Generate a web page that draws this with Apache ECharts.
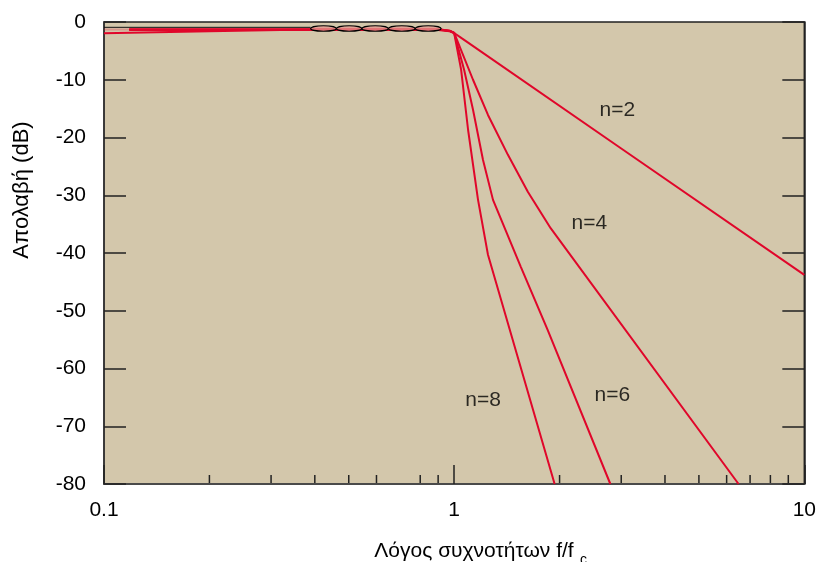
<!DOCTYPE html>
<html>
<head>
<meta charset="utf-8">
<script src="https://cdn.jsdelivr.net/npm/echarts@6/dist/echarts.min.js"></script>
<style>
  html, body { margin: 0; padding: 0; background: #ffffff; }
  #chart { width: 819px; height: 562px; }
</style>
</head>
<body>
<div id="chart"></div>
<script>
// Gain (dB) against frequency ratio f/fc for each filter order
const respN2 = [[0.1, -1.95], [0.2, -1.6], [0.35, -1.35], [0.9, -1.25], [0.97, -1.5], [1, -1.9],
  [1.05, -2.8], [3, -21.9], [10, -43.8]];
const respN4 = [[0.118, -1.25], [0.9, -1.25], [0.97, -1.5], [1, -1.9], [1.132, -10.0], [1.249, -16.1],
  [1.424, -23.0], [1.623, -29.4], [1.886, -35.7], [6.49, -80]];
const respN6 = [[0.118, -1.4], [0.9, -1.4], [0.97, -1.6], [1, -1.9], [1.068, -8.3], [1.132, -15.2],
  [1.209, -23.9], [1.291, -30.8], [1.55, -42.4], [1.849, -53.3], [2.793, -80]];
const respN8 = [[0.118, -1.3], [0.9, -1.3], [0.97, -1.55], [1, -1.9], [1.047, -8.3], [1.096, -18.7],
  [1.17, -30.8], [1.249, -40.3], [1.936, -80]];
const leadIn = [[0.1, -1.3], [0.118, -1.3]];

// Pass-band ripple cells: boundaries in f/fc, top and bottom in dB
const rippleEdges = [0.389, 0.461, 0.545, 0.649, 0.774, 0.918];
const rippleTop = -0.65;
const rippleBottom = -1.6;
const rippleRef = [[0.1, -0.92], [0.389, -0.92]];

// Curve labels
const labelText = ['n=2', 'n=4', 'n=6', 'n=8'];
const labelF = [2.924, 2.434, 2.83, 1.209];
const labelDb = [-15.2, -34.8, -64.6, -65.5];

// Axes
const xMin = 0.1, xMax = 10;
const yMin = -80, yMax = 0, yStep = 10;
const xMinorTicks = [0.2, 0.3, 0.4, 0.5, 0.6, 0.8, 0.9, 2, 3, 4, 5, 6, 7, 8, 9];

const RED = '#e0062a';
const FONT = '"Liberation Sans", Arial, sans-serif';
const INK = '#000000';

const rippleCells = [];
for (let i = 0; i < rippleEdges.length - 1; i++) rippleCells.push([rippleEdges[i], rippleEdges[i + 1]]);

const chart = echarts.init(document.getElementById('chart'), null, { renderer: 'canvas' });

function curve(data, z) {
  return {
    type: 'line', data: data, symbol: 'none', smooth: false, z: z,
    lineStyle: { color: RED, width: 2 }, animation: false
  };
}

chart.setOption({
  animation: false,
  grid: {
    left: 104, right: 11, top: 22, bottom: 78,
    show: true, backgroundColor: '#d3c7ab', borderColor: '#222', borderWidth: 1.5
  },
  xAxis: {
    type: 'log', logBase: 10, min: xMin, max: xMax,
    axisLine: { show: true, onZero: false, lineStyle: { color: '#4a4a4a', width: 2 } },
    axisTick: { show: true, inside: true, length: 19, lineStyle: { color: '#222', width: 1.5 } },
    axisLabel: {
      show: true, margin: 16, fontSize: 21, color: INK, fontFamily: FONT,
      formatter: v => String(+v.toPrecision(3))
    },
    splitLine: { show: false }
  },
  yAxis: [{
    type: 'value', min: yMin, max: yMax, interval: yStep, position: 'left',
    axisLine: { show: true, onZero: false, lineStyle: { color: '#333', width: 1.5 } },
    axisTick: { show: true, inside: true, length: 22, lineStyle: { color: '#222', width: 1.5 } },
    axisLabel: { show: true, margin: 18, fontSize: 21, color: INK, fontFamily: FONT },
    splitLine: { show: false }
  }, {
    type: 'value', min: yMin, max: yMax, interval: yStep, position: 'right',
    axisLine: { show: true, onZero: false, lineStyle: { color: '#222', width: 1.5 } },
    axisTick: { show: true, inside: true, length: 22, lineStyle: { color: '#222', width: 1.5 } },
    axisLabel: { show: false },
    splitLine: { show: false }
  }],
  series: [
    {
      type: 'line', data: leadIn, symbol: 'none', z: 2, animation: false,
      lineStyle: { color: 'rgba(224,6,42,0.25)', width: 2 }
    },
    {
      type: 'line', data: rippleRef, symbol: 'none', z: 2, animation: false,
      lineStyle: { color: '#111', width: 1 }
    },
    curve(respN2, 3), curve(respN4, 3), curve(respN6, 3), curve(respN8, 3),
    {
      type: 'custom', z: 4, animation: false,
      data: rippleCells,
      encode: { x: [0, 1] },
      renderItem: function (params, api) {
        const a = api.coord([api.value(0), rippleTop]);
        const b = api.coord([api.value(1), rippleBottom]);
        return {
          type: 'ellipse',
          shape: { cx: (a[0] + b[0]) / 2, cy: (a[1] + b[1]) / 2, rx: Math.abs(b[0] - a[0]) / 2, ry: Math.abs(b[1] - a[1]) / 2 },
          style: { fill: 'rgba(226,150,140,0.75)', stroke: '#000', lineWidth: 1.2 }
        };
      }
    },
    {
      type: 'custom', z: 5, animation: false, clip: false,
      data: xMinorTicks.map(v => [v, yMin]),
      encode: { x: 0, y: 1 },
      renderItem: function (params, api) {
        const p = api.coord([api.value(0), yMin]);
        return {
          type: 'line',
          shape: { x1: p[0], y1: p[1] - 1, x2: p[0], y2: p[1] - 9 },
          style: { stroke: '#222', lineWidth: 1.5 }
        };
      }
    },
    {
      type: 'scatter', z: 6, animation: false, symbolSize: 0,
      itemStyle: { color: 'transparent' },
      data: labelText.map((t, i) => [labelF[i], labelDb[i], t]),
      label: {
        show: true, position: 'inside', formatter: p => p.data[2],
        fontSize: 21, color: INK, fontFamily: FONT
      }
    }
  ],
  graphic: [
    {
      type: 'text', x: 22, y: 190, rotation: Math.PI / 2,
      style: { text: 'Απολαβή (dB)', font: '22px ' + FONT, fill: INK, textAlign: 'center', textVerticalAlign: 'middle' }
    },
    {
      type: 'text', x: 474, y: 551,
      style: { text: 'Λόγος συχνοτήτων f/f', font: '21px ' + FONT, fill: INK, textAlign: 'center', textVerticalAlign: 'middle' }
    },
    {
      type: 'text', x: 580, y: 560,
      style: { text: 'c', font: '14px ' + FONT, fill: INK, textAlign: 'left', textVerticalAlign: 'middle' }
    }
  ]
});
</script>
</body>
</html>
